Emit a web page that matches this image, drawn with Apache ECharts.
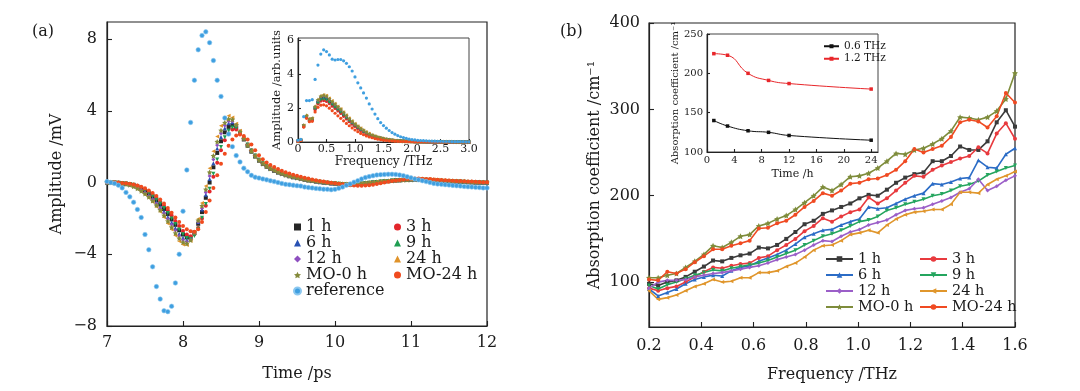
<!DOCTYPE html>
<html><head><meta charset="utf-8">
<script src="https://cdn.jsdelivr.net/npm/echarts@6/dist/echarts.min.js"></script>
<style>html,body{margin:0;padding:0;background:#fff}#c{width:1080px;height:391px}</style>
</head><body><div id="c"></div>
<script>
// ---------- Panel (a): time-domain waveforms ----------
const timePs = [7,7.05,7.1,7.15,7.2,7.25,7.3,7.35,7.4,7.45,7.5,7.55,7.6,7.65,7.7,7.75,7.8,7.85,7.9,7.95,8,8.05,8.1,8.15,8.2,8.25,8.3,8.35,8.4,8.45,8.5,8.55,8.6,8.65,8.7,8.75,8.8,8.85,8.9,8.95,9,9.05,9.1,9.15,9.2,9.25,9.3,9.35,9.4,9.45,9.5,9.55,9.6,9.65,9.7,9.75,9.8,9.85,9.9,9.95,10,10.05,10.1,10.15,10.2,10.25,10.3,10.35,10.4,10.45,10.5,10.55,10.6,10.65,10.7,10.75,10.8,10.85,10.9,10.95,11,11.05,11.1,11.15,11.2,11.25,11.3,11.35,11.4,11.45,11.5,11.55,11.6,11.65,11.7,11.75,11.8,11.85,11.9,11.95,12];
const wave_ref = [0.05,0.0,-0.05,-0.15,-0.3,-0.55,-0.8,-1.1,-1.5,-1.95,-2.9,-3.75,-4.7,-5.8,-6.5,-7.15,-7.2,-6.9,-5.6,-4.0,-1.6,0.7,3.35,5.7,7.4,8.2,8.4,7.8,6.8,5.7,4.8,3.6,2.7,2.0,1.5,1.15,0.8,0.6,0.4,0.3,0.25,0.2,0.15,0.1,0.05,0.0,-0.05,-0.1,-0.12,-0.15,-0.18,-0.2,-0.25,-0.28,-0.3,-0.33,-0.35,-0.37,-0.38,-0.4,-0.38,-0.32,-0.25,-0.15,-0.08,0.02,0.1,0.2,0.28,0.33,0.38,0.42,0.44,0.45,0.46,0.46,0.45,0.42,0.38,0.32,0.26,0.2,0.15,0.1,0.05,0.0,-0.05,-0.08,-0.1,-0.12,-0.14,-0.16,-0.18,-0.2,-0.22,-0.24,-0.25,-0.27,-0.28,-0.3,-0.3];
const wave_1h = [0,0,-0.01,-0.02,-0.04,-0.07,-0.1,-0.15,-0.23,-0.34,-0.47,-0.62,-0.8,-1.0,-1.23,-1.48,-1.76,-2.06,-2.36,-2.66,-2.9,-3.06,-3.05,-2.78,-2.3,-1.65,-0.85,0.0,0.85,1.65,2.3,2.8,3.1,3.2,3.05,2.75,2.4,2.05,1.72,1.45,1.22,1.03,0.88,0.76,0.65,0.56,0.48,0.41,0.35,0.3,0.25,0.2,0.16,0.12,0.09,0.06,0.03,0.0,-0.02,-0.04,-0.06,-0.08,-0.09,-0.1,-0.1,-0.09,-0.08,-0.06,-0.04,-0.02,0.0,0.02,0.04,0.06,0.08,0.1,0.12,0.13,0.14,0.15,0.16,0.16,0.16,0.15,0.14,0.13,0.12,0.1,0.09,0.08,0.07,0.06,0.05,0.04,0.03,0.02,0.01,0.0,0.0,-0.01,-0.01];
const wave_3h = [0.01,0,0,-0.01,-0.03,-0.05,-0.08,-0.12,-0.18,-0.26,-0.38,-0.52,-0.68,-0.86,-1.07,-1.3,-1.56,-1.84,-2.14,-2.43,-2.7,-2.9,-3.0,-2.88,-2.54,-2.0,-1.3,-0.5,0.32,1.1,1.8,2.35,2.74,2.95,2.95,2.75,2.45,2.12,1.8,1.51,1.28,1.07,0.91,0.78,0.68,0.58,0.5,0.43,0.37,0.32,0.27,0.22,0.18,0.14,0.1,0.07,0.04,0.01,-0.02,-0.04,-0.06,-0.08,-0.1,-0.11,-0.11,-0.1,-0.09,-0.07,-0.05,-0.03,-0.01,0.01,0.03,0.05,0.07,0.09,0.11,0.13,0.14,0.15,0.16,0.17,0.17,0.16,0.15,0.14,0.13,0.11,0.1,0.09,0.08,0.07,0.06,0.05,0.04,0.03,0.02,0.01,0.01,0.0,0.0];
const wave_6h = [0,0,-0.01,-0.03,-0.05,-0.08,-0.11,-0.17,-0.26,-0.38,-0.52,-0.69,-0.88,-1.1,-1.35,-1.62,-1.92,-2.23,-2.54,-2.85,-3.08,-3.2,-3.12,-2.78,-2.2,-1.5,-0.68,0.19,1.07,1.89,2.54,3.03,3.31,3.36,3.17,2.84,2.47,2.1,1.77,1.48,1.25,1.06,0.91,0.78,0.67,0.57,0.49,0.42,0.36,0.3,0.25,0.2,0.16,0.12,0.08,0.05,0.02,-0.01,-0.03,-0.05,-0.07,-0.09,-0.1,-0.11,-0.1,-0.09,-0.08,-0.06,-0.04,-0.02,0.0,0.02,0.04,0.06,0.08,0.1,0.12,0.13,0.14,0.15,0.15,0.15,0.15,0.14,0.13,0.12,0.11,0.1,0.09,0.08,0.07,0.06,0.05,0.04,0.03,0.02,0.01,0.0,-0.01,-0.01,-0.02];
const wave_9h = [0.01,0,0,-0.01,-0.03,-0.06,-0.09,-0.13,-0.2,-0.31,-0.43,-0.58,-0.75,-0.95,-1.17,-1.42,-1.7,-2.0,-2.31,-2.62,-2.88,-3.09,-3.15,-2.98,-2.58,-1.96,-1.2,-0.35,0.49,1.29,1.98,2.52,2.89,3.07,3.05,2.78,2.46,2.12,1.79,1.51,1.27,1.08,0.91,0.79,0.67,0.58,0.5,0.43,0.37,0.31,0.26,0.21,0.17,0.13,0.1,0.07,0.04,0.01,-0.01,-0.03,-0.05,-0.07,-0.08,-0.09,-0.09,-0.08,-0.07,-0.05,-0.03,-0.01,0.01,0.03,0.05,0.07,0.09,0.11,0.13,0.14,0.15,0.16,0.17,0.17,0.17,0.16,0.15,0.14,0.12,0.11,0.1,0.09,0.08,0.07,0.06,0.05,0.04,0.03,0.02,0.01,0.0,0.0,-0.01];
const wave_12h = [0,0,-0.01,-0.03,-0.06,-0.09,-0.13,-0.19,-0.29,-0.42,-0.57,-0.75,-0.95,-1.18,-1.44,-1.72,-2.03,-2.35,-2.68,-2.98,-3.2,-3.3,-3.18,-2.8,-2.2,-1.44,-0.55,0.37,1.28,2.08,2.73,3.18,3.42,3.42,3.19,2.84,2.46,2.09,1.75,1.48,1.24,1.06,0.9,0.78,0.66,0.58,0.49,0.42,0.36,0.3,0.25,0.2,0.16,0.12,0.09,0.06,0.03,0.0,-0.03,-0.05,-0.07,-0.08,-0.09,-0.1,-0.1,-0.09,-0.07,-0.05,-0.03,-0.01,0.01,0.03,0.05,0.07,0.09,0.11,0.12,0.13,0.14,0.15,0.16,0.16,0.15,0.15,0.14,0.13,0.12,0.11,0.1,0.09,0.08,0.07,0.06,0.05,0.04,0.03,0.02,0.01,0.0,-0.01,-0.01];
const wave_24h = [0,0,-0.01,-0.03,-0.06,-0.1,-0.16,-0.24,-0.36,-0.5,-0.67,-0.87,-1.09,-1.35,-1.63,-1.94,-2.28,-2.62,-2.96,-3.28,-3.45,-3.48,-3.24,-2.74,-2.03,-1.14,-0.2,0.8,1.75,2.57,3.16,3.56,3.72,3.63,3.28,2.89,2.48,2.09,1.76,1.48,1.25,1.06,0.91,0.78,0.67,0.58,0.5,0.43,0.37,0.31,0.26,0.21,0.17,0.13,0.1,0.07,0.04,0.02,0.0,-0.02,-0.04,-0.06,-0.07,-0.08,-0.08,-0.07,-0.06,-0.04,-0.02,0.0,0.02,0.04,0.06,0.08,0.1,0.12,0.13,0.15,0.16,0.17,0.18,0.19,0.19,0.19,0.18,0.18,0.17,0.15,0.13,0.11,0.1,0.08,0.07,0.06,0.05,0.04,0.03,0.02,0.01,0.0,0.0];
const wave_MO0h = [0,0,-0.01,-0.03,-0.05,-0.09,-0.14,-0.22,-0.33,-0.47,-0.62,-0.81,-1.02,-1.27,-1.53,-1.83,-2.15,-2.49,-2.82,-3.11,-3.33,-3.4,-3.21,-2.78,-2.11,-1.3,-0.38,0.57,1.49,2.28,2.91,3.34,3.54,3.52,3.21,2.84,2.45,2.07,1.75,1.47,1.24,1.05,0.9,0.77,0.67,0.57,0.49,0.42,0.36,0.31,0.26,0.21,0.17,0.13,0.1,0.07,0.04,0.01,-0.01,-0.03,-0.05,-0.07,-0.08,-0.09,-0.09,-0.08,-0.07,-0.05,-0.03,-0.01,0.01,0.03,0.05,0.07,0.09,0.1,0.12,0.13,0.14,0.15,0.16,0.17,0.17,0.17,0.16,0.15,0.14,0.12,0.11,0.1,0.09,0.08,0.07,0.06,0.05,0.04,0.03,0.02,0.01,0.0,0.0];
const wave_MO24h = [0.02,0.02,0.01,0.0,-0.02,-0.04,-0.07,-0.11,-0.16,-0.23,-0.32,-0.44,-0.58,-0.75,-0.95,-1.17,-1.42,-1.68,-1.95,-2.2,-2.42,-2.6,-2.72,-2.75,-2.6,-2.2,-1.65,-1.0,-0.3,0.4,1.05,1.6,2.05,2.4,2.62,2.68,2.6,2.4,2.12,1.8,1.52,1.3,1.12,0.98,0.86,0.75,0.65,0.57,0.5,0.44,0.38,0.32,0.27,0.22,0.17,0.13,0.09,0.05,0.02,-0.01,-0.04,-0.07,-0.1,-0.13,-0.15,-0.17,-0.18,-0.18,-0.17,-0.15,-0.12,-0.08,-0.04,0.0,0.04,0.08,0.11,0.14,0.17,0.19,0.21,0.22,0.22,0.21,0.2,0.19,0.17,0.15,0.14,0.12,0.11,0.1,0.09,0.08,0.07,0.06,0.05,0.04,0.03,0.02,0.02];

// ---------- Panel (a) inset: spectra ----------
const freqInset = [0,0.05,0.1,0.15,0.2,0.25,0.3,0.35,0.4,0.45,0.5,0.55,0.6,0.65,0.7,0.75,0.8,0.85,0.9,0.95,1,1.05,1.1,1.15,1.2,1.25,1.3,1.35,1.4,1.45,1.5,1.55,1.6,1.65,1.7,1.75,1.8,1.85,1.9,1.95,2,2.05,2.1,2.15,2.2,2.25,2.3,2.35,2.4,2.45,2.5,2.55,2.6,2.65,2.7,2.75,2.8,2.85,2.9,2.95,3];
const spec_ref = [0.1,0.15,1.5,2.45,2.45,2.5,3.7,4.55,5.2,5.45,5.35,5.15,4.9,4.85,4.88,4.88,4.8,4.65,4.45,4.2,3.85,3.5,3.2,2.9,2.6,2.25,1.95,1.65,1.38,1.15,0.97,0.82,0.68,0.56,0.46,0.38,0.31,0.26,0.21,0.17,0.14,0.12,0.1,0.09,0.08,0.07,0.06,0.05,0.05,0.04,0.04,0.03,0.03,0.03,0.02,0.02,0.02,0.02,0.02,0.01,0.01];
const spec_1h = [0.05,0.1,0.95,1.5,1.3,1.35,2.0,2.35,2.55,2.6,2.55,2.4,2.25,2.1,1.95,1.8,1.62,1.45,1.28,1.12,0.98,0.85,0.73,0.62,0.52,0.44,0.37,0.31,0.26,0.22,0.18,0.15,0.12,0.1,0.08,0.07,0.06,0.05,0.04,0.03,0.03,0.02,0.02,0.02,0.02,0.01,0.01,0.01,0.01,0.01,0.01,0.01,0.01,0.01,0.0,0.0,0.0,0.0,0.0,0.0,0.0];
const spec_3h = [0.04,0.1,0.9,1.45,1.25,1.3,1.9,2.25,2.42,2.45,2.4,2.27,2.12,1.98,1.84,1.69,1.52,1.36,1.2,1.05,0.92,0.8,0.68,0.58,0.49,0.41,0.34,0.29,0.24,0.2,0.17,0.14,0.11,0.09,0.08,0.06,0.05,0.04,0.04,0.03,0.03,0.02,0.02,0.02,0.01,0.01,0.01,0.01,0.01,0.01,0.01,0.01,0.0,0.0,0.0,0.0,0.0,0.0,0.0,0.0,0.0];
const spec_6h = [0.05,0.1,0.97,1.52,1.32,1.37,2.05,2.42,2.62,2.66,2.62,2.47,2.32,2.17,2.01,1.86,1.68,1.5,1.33,1.17,1.02,0.89,0.76,0.65,0.55,0.46,0.39,0.33,0.27,0.23,0.19,0.16,0.13,0.11,0.09,0.07,0.06,0.05,0.04,0.04,0.03,0.03,0.02,0.02,0.02,0.02,0.01,0.01,0.01,0.01,0.01,0.01,0.01,0.01,0.01,0.0,0.0,0.0,0.0,0.0,0.0];
const spec_9h = [0.05,0.1,0.93,1.47,1.28,1.32,1.95,2.3,2.48,2.52,2.47,2.33,2.19,2.04,1.9,1.75,1.58,1.41,1.25,1.1,0.96,0.83,0.71,0.6,0.51,0.43,0.36,0.3,0.25,0.21,0.17,0.14,0.12,0.1,0.08,0.07,0.05,0.04,0.04,0.03,0.03,0.02,0.02,0.02,0.01,0.01,0.01,0.01,0.01,0.01,0.01,0.01,0.01,0.0,0.0,0.0,0.0,0.0,0.0,0.0,0.0];
const spec_12h = [0.05,0.11,0.98,1.55,1.34,1.39,2.08,2.46,2.66,2.71,2.66,2.51,2.36,2.2,2.04,1.89,1.71,1.53,1.36,1.19,1.04,0.91,0.78,0.67,0.57,0.48,0.4,0.34,0.28,0.24,0.2,0.16,0.13,0.11,0.09,0.08,0.06,0.05,0.04,0.04,0.03,0.03,0.02,0.02,0.02,0.02,0.01,0.01,0.01,0.01,0.01,0.01,0.01,0.01,0.01,0.0,0.0,0.0,0.0,0.0,0.0];
const spec_24h = [0.06,0.11,1.0,1.58,1.37,1.42,2.12,2.52,2.74,2.8,2.76,2.6,2.45,2.29,2.13,1.97,1.78,1.6,1.42,1.25,1.1,0.96,0.83,0.71,0.6,0.51,0.43,0.36,0.3,0.25,0.21,0.17,0.14,0.12,0.1,0.08,0.07,0.06,0.05,0.04,0.03,0.03,0.02,0.02,0.02,0.02,0.02,0.01,0.01,0.01,0.01,0.01,0.01,0.01,0.01,0.01,0.0,0.0,0.0,0.0,0.0];
const spec_MO0h = [0.05,0.11,0.99,1.56,1.36,1.41,2.1,2.5,2.7,2.76,2.71,2.56,2.4,2.24,2.08,1.93,1.74,1.56,1.39,1.22,1.07,0.93,0.8,0.69,0.58,0.49,0.41,0.35,0.29,0.24,0.2,0.17,0.14,0.11,0.09,0.08,0.06,0.05,0.04,0.04,0.03,0.03,0.02,0.02,0.02,0.02,0.01,0.01,0.01,0.01,0.01,0.01,0.01,0.01,0.01,0.0,0.0,0.0,0.0,0.0,0.0];
const spec_MO24h = [0.04,0.09,0.88,1.4,1.2,1.22,1.78,2.05,2.18,2.2,2.14,2.0,1.85,1.7,1.55,1.4,1.25,1.1,0.96,0.83,0.71,0.61,0.51,0.43,0.36,0.3,0.25,0.2,0.17,0.14,0.11,0.09,0.07,0.06,0.05,0.04,0.03,0.03,0.02,0.02,0.02,0.01,0.01,0.01,0.01,0.01,0.01,0.0,0.0,0.0,0.0,0.0,0.0,0.0,0.0,0.0,0.0,0.0,0.0,0.0,0.0];

// ---------- Panel (b): absorption coefficient ----------
const freqB = [0.2,0.235,0.27,0.305,0.34,0.375,0.41,0.445,0.48,0.515,0.55,0.585,0.62,0.655,0.69,0.725,0.76,0.795,0.83,0.865,0.9,0.935,0.97,1.005,1.04,1.075,1.11,1.145,1.18,1.215,1.25,1.285,1.32,1.355,1.39,1.425,1.46,1.495,1.53,1.565,1.6];
const abs_1h = [98,96,100,102,106,112,118,125,124,128,131,133,140,139,143,150,158,167,171,179,183,187,191,197,201,200,207,215,221,225,227,240,240,246,257,253,253,263,285,299,280];
const abs_3h = [93,90,93,95,100,106,112,117,116,119,121,122,128,130,137,143,150,159,165,174,170,176,181,184,198,191,197,206,215,223,222,230,235,239,243,246,256,249,272,284,266];
const abs_6h = [92,84,88,92,98,103,106,108,107,113,117,119,124,128,132,137,144,152,156,160,161,166,170,173,187,185,186,191,196,200,203,214,213,216,220,221,241,233,232,248,255];
const abs_9h = [96,92,97,100,104,108,111,114,113,116,118,120,122,125,129,133,137,143,148,153,156,160,165,170,172,176,183,186,190,193,196,200,202,206,211,213,217,224,228,232,235];
const abs_12h = [93,100,102,102,103,106,108,110,111,113,115,117,119,122,126,129,132,137,143,148,147,153,158,161,166,169,172,178,183,185,186,190,194,198,204,208,219,206,211,218,223];
const abs_24h = [90,80,82,85,90,95,98,103,100,101,105,105,111,111,113,118,122,129,137,142,143,148,155,157,160,157,166,173,178,181,182,184,184,190,204,204,203,213,219,223,228];
const abs_MO0h = [105,105,108,110,117,124,132,142,140,146,153,155,165,168,173,177,184,192,200,210,206,213,222,223,226,232,240,249,248,253,255,260,266,275,291,290,288,291,298,312,342];
const abs_MO24h = [103,102,112,110,115,123,130,138,138,142,145,148,162,163,168,171,178,187,194,203,200,206,214,215,219,220,224,230,240,254,250,254,258,268,285,288,286,279,292,319,308];

// ---------- Panel (b) inset ----------
const timeH = [1,3,6,9,12,24];
const abs06 = [140,133,127,125,121,115];
const abs12 = [225,223,200,191,187,180];

// ---------- tick values ----------
const ticksAy = [-8,-4,0,4,8];
const ticksInsetAy = [0,2,4,6];
const ticksBx = [0.2,0.4,0.6,0.8,1.0,1.2,1.4,1.6];
const ticksBy = [100,200,300,400];
const ticksInsetBx = [0,4,8,12,16,20,24];

// ---------- chart ----------
const FONT = 'DejaVu Serif';
const TXT = '#1a1a1a';
const AX = '#222';
const zip = (x, y) => x.map((v, i) => [v, y[i]]);
const minus = v => String(v).replace('-', '\u2212');
const STAR = 'path://M0,-10L2.9,-4L9.5,-3.1L4.7,1.5L5.9,8.1L0,5L-5.9,8.1L-4.7,1.5L-9.5,-3.1L-2.9,-4Z';

const sampleDefs = [
  {name:'1 h', color:'#262626', symbol:'rect', rot:0, w:wave_1h, s:spec_1h, b:abs_1h, bc:'#3b3b3b'},
  {name:'3 h', color:'#e3262b', symbol:'circle', rot:0, w:wave_3h, s:spec_3h, b:abs_3h, bc:'#e83a3e'},
  {name:'6 h', color:'#2851b3', symbol:'triangle', rot:0, w:wave_6h, s:spec_6h, b:abs_6h, bc:'#2b6cc6'},
  {name:'9 h', color:'#1f9e52', symbol:'triangle', rot:180, w:wave_9h, s:spec_9h, b:abs_9h, bc:'#24a55e'},
  {name:'12 h', color:'#8e4fc0', symbol:'diamond', rot:0, w:wave_12h, s:spec_12h, b:abs_12h, bc:'#9b5fc8'},
  {name:'24 h', color:'#e0932a', symbol:'triangle', rot:90, w:wave_24h, s:spec_24h, b:abs_24h, bc:'#e0962c'},
  {name:'MO-0 h', color:'#848a3a', symbol:STAR, rot:0, w:wave_MO0h, s:spec_MO0h, b:abs_MO0h, bc:'#7e8c3b'},
  {name:'MO-24 h', color:'#f04b1e', symbol:'circle', rot:0, w:wave_MO24h, s:spec_MO24h, b:abs_MO24h, bc:'#f04a22'}
];
const REF = '#3f9fe0';

const series = [];
sampleDefs.forEach(d => {
  series.push({type:'scatter', name:d.name, xAxisIndex:0, yAxisIndex:0, data:zip(timePs, d.w),
    symbol:d.symbol, symbolRotate:d.rot, symbolSize:d.symbol===STAR?5.5:4, itemStyle:{color:d.color, opacity:1}});
});
series.push({type:'scatter', name:'reference', xAxisIndex:0, yAxisIndex:0, data:zip(timePs, wave_ref),
  symbol:'circle', symbolSize:4.5, itemStyle:{color:REF, opacity:1, borderColor:'#8cc8f0', borderWidth:0.6}});
sampleDefs.forEach(d => {
  series.push({type:'scatter', name:'i:'+d.name, xAxisIndex:1, yAxisIndex:1, data:zip(freqInset, d.s),
    symbol:d.symbol, symbolRotate:d.rot, symbolSize:d.symbol===STAR?4.5:3.2, itemStyle:{color:d.color, opacity:1}});
});
series.push({type:'scatter', name:'i:reference', xAxisIndex:1, yAxisIndex:1, data:zip(freqInset, spec_ref),
  symbol:'circle', symbolSize:3.2, itemStyle:{color:REF, opacity:1}});
sampleDefs.forEach(d => {
  series.push({type:'line', name:'b:'+d.name, xAxisIndex:2, yAxisIndex:2, data:zip(freqB, d.b),
    symbol:d.symbol, symbolRotate:d.rot, symbolSize:d.symbol===STAR?6:4, showSymbol:true,
    itemStyle:{color:d.bc}, lineStyle:{color:d.bc, width:1.6}});
});
series.push({type:'line', name:'0.6 THz', xAxisIndex:3, yAxisIndex:3, data:zip(timeH, abs06), smooth:true,
  symbol:'rect', symbolSize:3.5, itemStyle:{color:'#111'}, lineStyle:{color:'#111', width:1}});
series.push({type:'line', name:'1.2 THz', xAxisIndex:3, yAxisIndex:3, data:zip(timeH, abs12), smooth:true,
  symbol:'rect', symbolSize:3.5, itemStyle:{color:'#e8262a'}, lineStyle:{color:'#e8262a', width:1}});

function axisBase(fs){
  return {
    axisLine:{show:true, onZero:false, lineStyle:{color:AX, width:1.2}},
    axisTick:{show:true, inside:true, length:5, lineStyle:{color:AX, width:1.1}},
    splitLine:{show:false},
    axisLabel:{color:TXT, fontFamily:FONT, fontSize:fs},
    nameTextStyle:{color:TXT, fontFamily:FONT, fontSize:fs},
    nameLocation:'middle'
  };
}
function mk(base, extra){
  const o = Object.assign({}, base, extra);
  ['axisLabel','axisTick','nameTextStyle','axisLine'].forEach(k=>{
    if (extra[k]) o[k] = Object.assign({}, base[k], extra[k]);
  });
  return o;
}

const option = {
  animation:false,
  backgroundColor:'#fff',
  grid:[
    {left:107, top:22, width:380, height:304, show:true, borderColor:AX, borderWidth:1.2, backgroundColor:'transparent'},
    {left:298, top:38, width:171, height:104, show:true, borderColor:'#444', borderWidth:1, backgroundColor:'#fff'},
    {left:649, top:23, width:366, height:304, show:true, borderColor:AX, borderWidth:1.2, backgroundColor:'transparent'},
    {left:707, top:34, width:171, height:118, show:true, borderColor:'#444', borderWidth:1, backgroundColor:'#fff'}
  ],
  xAxis:[
    mk(axisBase(16), {type:'value', gridIndex:0, min:7, max:12, interval:1, name:'Time /ps', nameGap:40,
      axisLabel:{margin:9}}),
    mk(axisBase(11), {type:'value', gridIndex:1, min:0, max:3, interval:0.5, name:'Frequency /THz', nameGap:14,
      nameTextStyle:{fontSize:12}, axisTick:{length:3},
      axisLabel:{margin:2, formatter:v=> v===0?'0':v.toFixed(1)}}),
    mk(axisBase(16), {type:'value', gridIndex:2, min:0.2, max:1.6, name:'Frequency /THz', nameGap:40,
      axisTick:{customValues:ticksBx}, axisLabel:{margin:11, customValues:ticksBx, formatter:v=>v.toFixed(1)}}),
    mk(axisBase(10), {type:'value', gridIndex:3, min:0, max:25, name:'Time /h', nameGap:17,
      nameTextStyle:{fontSize:11}, axisTick:{length:3, customValues:ticksInsetBx}, axisLabel:{margin:3, customValues:ticksInsetBx}})
  ],
  yAxis:[
    mk(axisBase(16), {type:'value', gridIndex:0, min:-8, max:8.95, name:'Amplitude /mV', nameGap:42,
      axisTick:{customValues:ticksAy}, axisLabel:{margin:10, customValues:ticksAy, formatter:minus}}),
    mk(axisBase(11), {type:'value', gridIndex:1, min:0, max:6.15, name:'Amplitude /arb.units', nameGap:12,
      nameTextStyle:{fontSize:11.5}, axisTick:{length:3, customValues:ticksInsetAy}, axisLabel:{margin:4, customValues:ticksInsetAy}}),
    mk(axisBase(16), {type:'value', gridIndex:2, min:48, max:400, name:'Absorption coefficient /cm\u207B\u00B9', nameGap:46,
      axisTick:{customValues:ticksBy}, axisLabel:{margin:9, customValues:ticksBy}}),
    mk(axisBase(10), {type:'value', gridIndex:3, min:100, max:250, interval:50, name:'Absorption coefficient /cm\u207B\u00B9', nameGap:27,
      nameTextStyle:{fontSize:10}, axisTick:{length:3}, axisLabel:{margin:4}})
  ],
  legend:[
    {data:['1 h','6 h','12 h','MO-0 h','reference'], orient:'vertical', left:288, top:214, itemGap:0,
      itemWidth:7, itemHeight:7, selectedMode:false, textStyle:{fontFamily:FONT, fontSize:16, lineHeight:16, color:TXT}},
    {data:['3 h','9 h','24 h','MO-24 h'], orient:'vertical', left:389, top:214, itemGap:0,
      itemWidth:7, itemHeight:7, selectedMode:false, textStyle:{fontFamily:FONT, fontSize:16, lineHeight:16, color:TXT}},
    {data:['b:1 h','b:6 h','b:12 h','b:MO-0 h'], orient:'vertical', left:820, top:246, itemGap:0,
      itemWidth:27, itemHeight:7, selectedMode:false, formatter:n=>n.slice(2),
      textStyle:{fontFamily:FONT, fontSize:14.5, lineHeight:16, color:TXT}},
    {data:['b:3 h','b:9 h','b:24 h','b:MO-24 h'], orient:'vertical', left:914, top:246, itemGap:0,
      itemWidth:27, itemHeight:7, selectedMode:false, formatter:n=>n.slice(2),
      textStyle:{fontFamily:FONT, fontSize:14.5, lineHeight:16, color:TXT}},
    {data:['0.6 THz','1.2 THz'], orient:'vertical', left:818, top:35, itemGap:0,
      itemWidth:15, itemHeight:5, selectedMode:false,
      textStyle:{fontFamily:FONT, fontSize:10.5, lineHeight:12.5, color:TXT}}
  ],
  graphic:[
    {type:'text', left:32, top:24, style:{text:'(a)', font:'16px "DejaVu Serif"', fill:TXT}},
    {type:'text', left:560, top:24, style:{text:'(b)', font:'16px "DejaVu Serif"', fill:TXT}}
  ],
  series
};
const chart = echarts.init(document.getElementById('c'), null, {renderer:'canvas'});
chart.setOption(option);
</script></body></html>
